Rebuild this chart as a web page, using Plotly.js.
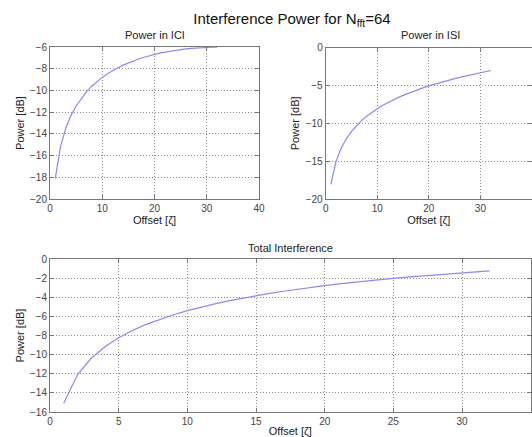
<!DOCTYPE html>
<html><head><meta charset="utf-8">
<script src="https://cdn.plot.ly/plotly-3.0.1.min.js"></script>
<style>html,body{margin:0;padding:0;background:#fff}#c{width:532px;height:437px}</style>
</head><body><div id="c"></div>
<script>
const offset = [1,2,3,4,5,6,7,8,9,10,11,12,13,14,15,16,17,18,19,20,21,22,23,24,25,26,27,28,29,30,31,32];
const iciPower = [-18.13,-15.19,-13.50,-12.32,-11.43,-10.71,-10.11,-9.61,-9.18,-8.80,-8.47,-8.17,-7.91,-7.67,-7.46,-7.27,-7.10,-6.94,-6.80,-6.68,-6.57,-6.47,-6.38,-6.30,-6.23,-6.18,-6.13,-6.09,-6.06,-6.04,-6.02,-6.02];
const isiPower = [-18.06,-15.05,-13.29,-12.04,-11.07,-10.28,-9.61,-9.03,-8.52,-8.06,-7.65,-7.27,-6.92,-6.60,-6.30,-6.02,-5.76,-5.51,-5.27,-5.05,-4.84,-4.64,-4.44,-4.26,-4.09,-3.92,-3.76,-3.60,-3.45,-3.31,-3.17,-3.01];
const totalPower = [-15.09,-12.11,-10.38,-9.17,-8.23,-7.48,-6.84,-6.30,-5.83,-5.40,-5.03,-4.69,-4.38,-4.09,-3.83,-3.59,-3.37,-3.16,-2.96,-2.78,-2.61,-2.45,-2.29,-2.15,-2.02,-1.89,-1.77,-1.65,-1.54,-1.44,-1.34,-1.25];
const mainTitle = "Interference Power for N<sub>fft</sub>=64";
const titles = ["Power in ICI", "Power in ISI", "Total Interference"];
const xLabel = "Offset [ζ]";
const yLabel = "Power [dB]";

const lineStyle = {color: '#8a8af0', width: 1.2};
const traces = [
  {x: offset, y: iciPower, xaxis: 'x', yaxis: 'y', mode: 'lines', line: lineStyle},
  {x: offset, y: isiPower, xaxis: 'x2', yaxis: 'y2', mode: 'lines', line: lineStyle},
  {x: offset, y: totalPower, xaxis: 'x3', yaxis: 'y3', mode: 'lines', line: lineStyle}
];
const W = 532, H = 437;
const tf = {family: 'Liberation Sans, Arial, sans-serif', size: 10, color: '#444'};
function ax(extra) {
  return Object.assign({
    showline: true, mirror: 'ticks', linecolor: '#777', linewidth: 1,
    ticks: 'inside', ticklen: 4, tickcolor: '#777',
    showgrid: true, gridcolor: '#8a8a8a', griddash: '1px,2px', gridwidth: 1,
    zeroline: false, tickfont: tf, automargin: false, fixedrange: true
  }, extra);
}
const titleFont = {family: 'Liberation Sans, Arial, sans-serif', size: 11, color: '#222'};
const layout = {
  width: W, height: H,
  margin: {l: 0, r: 0, t: 0, b: 0},
  paper_bgcolor: '#fff', plot_bgcolor: '#fff',
  showlegend: false,
  title: {text: mainTitle, x: 292/W, xanchor: 'center', y: 1 - 19/H, yanchor: 'middle',
          font: {family: 'Liberation Sans, Arial, sans-serif', size: 15, color: '#111'}},
  xaxis: ax({domain: [50/W, 259/W], anchor: 'y', range: [0, 40], dtick: 10,
             title: {text: xLabel, font: titleFont, standoff: 3}}),
  yaxis: ax({domain: [1 - 199/H, 1 - 47/H], anchor: 'x', range: [-20, -6], dtick: 2,
             title: {text: yLabel, font: titleFont, standoff: 3}}),
  xaxis2: ax({domain: [325.7/W, 1], anchor: 'y2', range: [0, 40], dtick: 10,
             title: {text: xLabel, font: titleFont, standoff: 3}}),
  yaxis2: ax({domain: [1 - 199/H, 1 - 47.7/H], anchor: 'x2', range: [-20, 0], dtick: 5,
             title: {text: yLabel, font: titleFont, standoff: 3}}),
  xaxis3: ax({domain: [50/W, 530.7/W], anchor: 'y3', range: [0, 35], dtick: 5,
             title: {text: xLabel, font: titleFont, standoff: 4}}),
  yaxis3: ax({domain: [1 - 412/H, 1 - 259/H], anchor: 'x3', range: [-16, 0], dtick: 2,
             title: {text: yLabel, font: titleFont, standoff: 3}}),
  annotations: [
    {text: titles[0], x: 155/W, y: 1 - 35/H, xref: 'paper', yref: 'paper', showarrow: false, xanchor: 'center', yanchor: 'middle', font: titleFont},
    {text: titles[1], x: 430/W, y: 1 - 35/H, xref: 'paper', yref: 'paper', showarrow: false, xanchor: 'center', yanchor: 'middle', font: titleFont},
    {text: titles[2], x: 290/W, y: 1 - 248/H, xref: 'paper', yref: 'paper', showarrow: false, xanchor: 'center', yanchor: 'middle', font: titleFont}
  ]
};
Plotly.newPlot('c', traces, layout, {displayModeBar: false, staticPlot: true});
</script></body></html>
